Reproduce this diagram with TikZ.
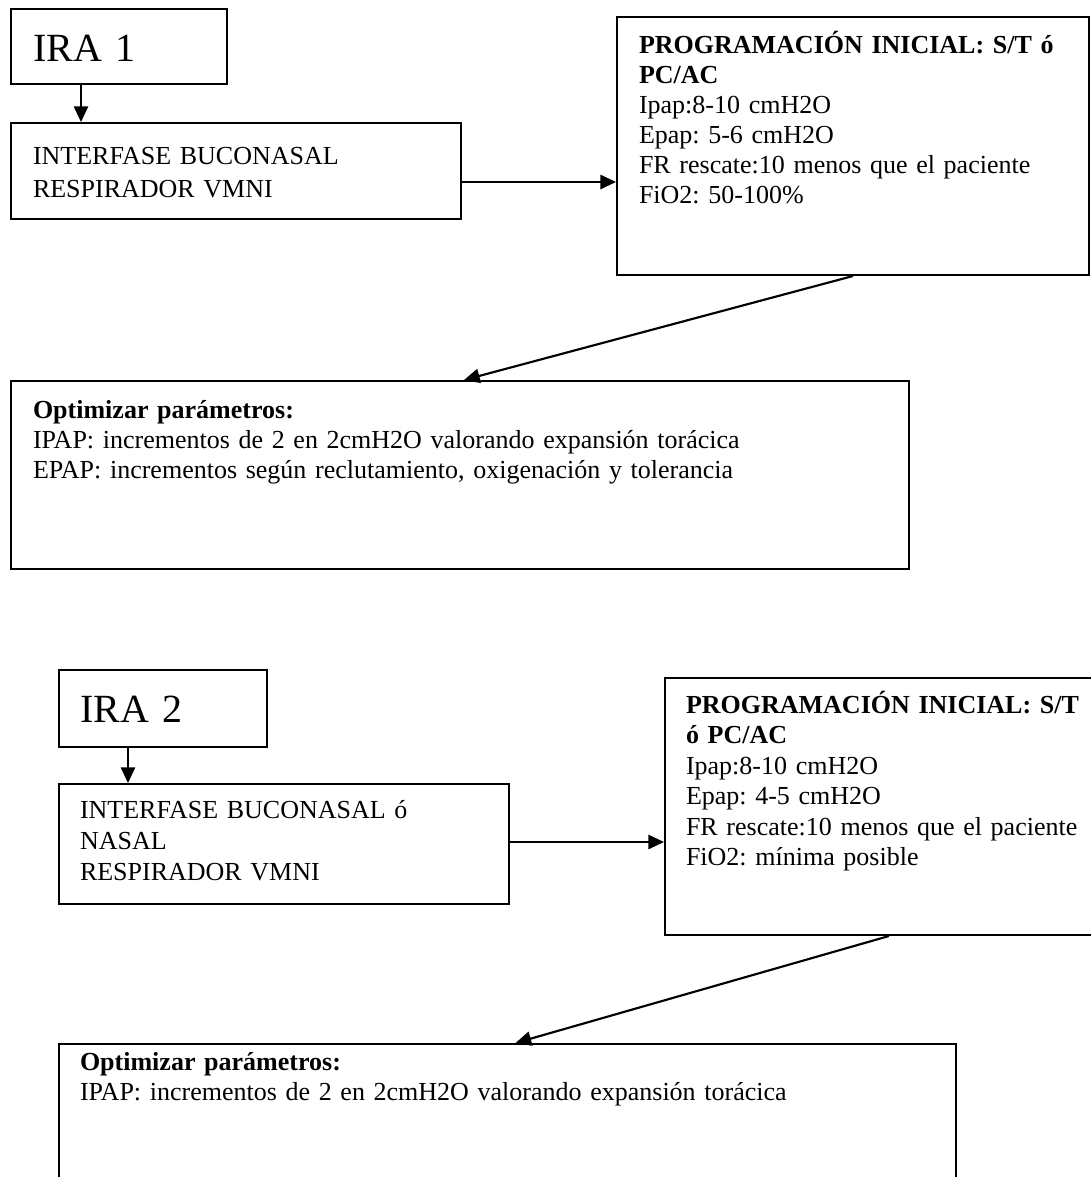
\documentclass[tikz,border=0pt]{standalone}
\usepackage{fontspec}
\setmainfont{Liberation Serif}
\usetikzlibrary{arrows.meta,positioning,calc}

\tikzset{
    box/.style={draw, line width=1.4pt, anchor=north west, align=left,
        inner ysep=0pt, font=\fontsize{18.2}{21.2}\selectfont},
    title/.style={font=\fontsize{28}{33}\selectfont},
    arr/.style={line width=1.5pt, -{Triangle[length=11pt,width=10pt]}},
}

\begin{document}
\frenchspacing
\begin{tikzpicture}[x=0.7pt,y=-0.7pt]
    \useasboundingbox (0,0) rectangle (1091,1177);

    % IRA 1
    \node[box, title, inner xsep=15.4pt, text width=120.4pt,
        text height=36.4pt, text depth=16.1pt] (ira1) at (10,8) {IRA 1};
    \node[box, inner xsep=15.4pt, text width=284.2pt,
        text height=28.7pt, text depth=38.5pt,
        font=\fontsize{18.2}{23.1}\selectfont] (int1) at (10,122)
        {INTERFASE BUCONASAL\\RESPIRADOR VMNI};
    \node[box, inner xsep=15.4pt, text width=299.6pt,
        text height=25.2pt, text depth=155.4pt,
        font=\fontsize{18.2}{21.1}\selectfont] (prog1) at (616,16)
        {\textbf{PROGRAMACIÓN INICIAL: S/T ó}\\\textbf{PC/AC}\\
         Ipap:8-10 cmH2O\\Epap: 5-6 cmH2O\\
         FR rescate:10 menos que el paciente\\FiO2: 50-100\%};
    \node[box, inner xsep=15.4pt, text width=597.8pt,
        text height=25.9pt, text depth=105.7pt,
        font=\fontsize{18.2}{21}\selectfont] (opt1) at (10,380)
        {\textbf{Optimizar parámetros:}\\
         IPAP: incrementos de 2 en 2cmH2O valorando expansión torácica\\
         EPAP: incrementos según reclutamiento, oxigenación y tolerancia};

    \coordinate (r1) at (0,182);
    \draw[arr] ([xshift=49.7pt]ira1.south west) -- ([xshift=49.7pt]int1.north west);
    \draw[arr] (int1.east |- r1) -- (prog1.west |- r1);
    \draw[arr] (prog1.south) -- ([xshift=2.8pt]opt1.north);

    % IRA 2
    \node[box, title, inner xsep=14.7pt, text width=116.2pt,
        text height=36.4pt, text depth=17.5pt] (ira2) at (58,669) {IRA 2};
    \node[box, inner xsep=14.7pt, text width=285.6pt,
        text height=23.8pt, text depth=60.2pt,
        font=\fontsize{18.2}{21.7}\selectfont] (int2) at (58,783)
        {INTERFASE BUCONASAL ó\\NASAL\\RESPIRADOR VMNI};
    \node[box, inner xsep=14.7pt, text width=284.2pt,
        text height=24.5pt, text depth=155.4pt,
        font=\fontsize{18.2}{21.4}\selectfont] (prog2) at (664,677)
        {\textbf{PROGRAMACIÓN INICIAL: S/T}\\\textbf{ó PC/AC}\\
         Ipap:8-10 cmH2O\\Epap: 4-5 cmH2O\\
         FR rescate:10 menos que el paciente\\FiO2: mínima posible};
    \node[box, inner xsep=14.7pt, text width=598.5pt,
        text height=18.2pt, text depth=112pt,
        font=\fontsize{18.2}{21}\selectfont] (opt2) at (58,1043)
        {\textbf{Optimizar parámetros:}\\
         IPAP: incrementos de 2 en 2cmH2O valorando expansión torácica};

    \coordinate (r2) at (0,842);
    \draw[arr] ([xshift=49pt]ira2.south west) -- ([xshift=49pt]int2.north west);
    \draw[arr] (int2.east |- r2) -- (prog2.west |- r2);
    \draw[arr] (prog2.south) -- ([xshift=5.6pt]opt2.north);
\end{tikzpicture}
\end{document}
